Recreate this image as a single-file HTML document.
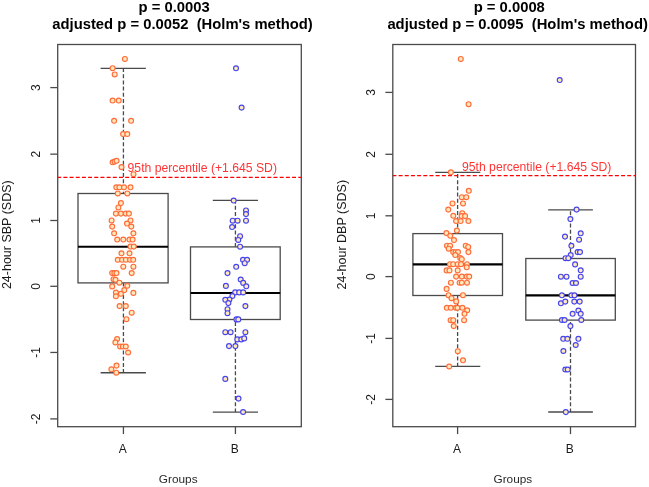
<!DOCTYPE html>
<html><head><meta charset="utf-8"><title>Boxplots</title>
<style>
html,body{margin:0;padding:0;background:#fff;width:649px;height:487px;overflow:hidden}
svg{display:block;will-change:transform}
.t{font-family:"Liberation Sans",sans-serif;font-size:12px;fill:#1a1a1a}
.g{fill:#2a2a2a;font-size:11.8px}
.yl{font-size:12.5px}
.ti{font-family:"Liberation Sans",sans-serif;font-size:14.8px;font-weight:bold;fill:#000}
.rt{fill:#ff3535;font-size:12.2px}
.o{fill:#ffe8bc;stroke:#ff6c3a;stroke-width:1.15}
.b{fill:#ffe8bc;stroke:#4444ee;stroke-width:1.15}
</style></head>
<body>
<svg width="649" height="487" viewBox="0 0 649 487">
<rect width="649" height="487" fill="#fff"/>
<rect x="57.7" y="44.5" width="243.6" height="382.2" fill="none" stroke="#4a4a4a" stroke-width="1.3"/>
<line x1="50.3" y1="87.6" x2="57.7" y2="87.6" stroke="#4a4a4a" stroke-width="1.3"/>
<text transform="translate(39.6,87.6) rotate(-90)" text-anchor="middle" class="t">3</text>
<line x1="50.3" y1="154.15" x2="57.7" y2="154.15" stroke="#4a4a4a" stroke-width="1.3"/>
<text transform="translate(39.6,154.15) rotate(-90)" text-anchor="middle" class="t">2</text>
<line x1="50.3" y1="220.5" x2="57.7" y2="220.5" stroke="#4a4a4a" stroke-width="1.3"/>
<text transform="translate(39.6,220.5) rotate(-90)" text-anchor="middle" class="t">1</text>
<line x1="50.3" y1="286.3" x2="57.7" y2="286.3" stroke="#4a4a4a" stroke-width="1.3"/>
<text transform="translate(39.6,286.3) rotate(-90)" text-anchor="middle" class="t">0</text>
<line x1="50.3" y1="352.45" x2="57.7" y2="352.45" stroke="#4a4a4a" stroke-width="1.3"/>
<text transform="translate(39.6,352.45) rotate(-90)" text-anchor="middle" class="t">-1</text>
<line x1="50.3" y1="418.9" x2="57.7" y2="418.9" stroke="#4a4a4a" stroke-width="1.3"/>
<text transform="translate(39.6,418.9) rotate(-90)" text-anchor="middle" class="t">-2</text>
<line x1="123.43" y1="426.7" x2="123.43" y2="434.1" stroke="#4a4a4a" stroke-width="1.3"/>
<text x="122.73" y="453" text-anchor="middle" class="t">A</text>
<line x1="235.43" y1="426.7" x2="235.43" y2="434.1" stroke="#4a4a4a" stroke-width="1.3"/>
<text x="234.73" y="453" text-anchor="middle" class="t">B</text>
<text x="178.2" y="483.2" text-anchor="middle" class="t g">Groups</text>
<text transform="translate(11.1,234.7) rotate(-90)" text-anchor="middle" class="t yl">24-hour SBP (SDS)</text>
<text x="138.6" y="11.8" class="ti">p = 0.0003</text>
<text x="52.3" y="29.4" class="ti" xml:space="preserve">adjusted p = 0.0052  (Holm's method)</text>
<line x1="57.7" y1="177.4" x2="301.3" y2="177.4" stroke="#ff0000" stroke-width="1.3" stroke-dasharray="4 2.18" stroke-dashoffset="0.5"/>
<text x="127.6" y="171.6" class="t rt">95th percentile (+1.645 SD)</text>
<line x1="123.43" y1="193.5" x2="123.43" y2="68.45" stroke="#4a4a4a" stroke-width="1.3" stroke-dasharray="4 2.18" stroke-dashoffset="2.16"/>
<line x1="123.43" y1="282.9" x2="123.43" y2="372.75" stroke="#4a4a4a" stroke-width="1.3" stroke-dasharray="4 2.18" stroke-dashoffset="0.31"/>
<line x1="100.6" y1="68.45" x2="145.9" y2="68.45" stroke="#4a4a4a" stroke-width="1.3"/>
<line x1="100.6" y1="372.75" x2="145.9" y2="372.75" stroke="#4a4a4a" stroke-width="1.3"/>
<rect x="78" y="193.5" width="90.1" height="89.4" fill="none" stroke="#4a4a4a" stroke-width="1.3"/>
<line x1="78" y1="246.7" x2="168.1" y2="246.7" stroke="#000" stroke-width="2.1"/>
<line x1="235.43" y1="246.9" x2="235.43" y2="200.45" stroke="#4a4a4a" stroke-width="1.3" stroke-dasharray="4 2.18" stroke-dashoffset="0"/>
<line x1="235.43" y1="319.5" x2="235.43" y2="412.1" stroke="#4a4a4a" stroke-width="1.3" stroke-dasharray="4 2.18" stroke-dashoffset="3.76"/>
<line x1="212.8" y1="200.45" x2="258" y2="200.45" stroke="#4a4a4a" stroke-width="1.3"/>
<line x1="212.8" y1="412.1" x2="258" y2="412.1" stroke="#4a4a4a" stroke-width="1.3"/>
<rect x="190.5" y="246.9" width="89.7" height="72.6" fill="none" stroke="#4a4a4a" stroke-width="1.3"/>
<line x1="190.5" y1="293.05" x2="280.2" y2="293.05" stroke="#000" stroke-width="2.1"/>
<circle cx="124.9" cy="58.9" r="2.45" class="o"/>
<circle cx="112.6" cy="68.2" r="2.45" class="o"/>
<circle cx="114.7" cy="74.4" r="2.45" class="o"/>
<circle cx="112.6" cy="100.5" r="2.45" class="o"/>
<circle cx="118.7" cy="100.5" r="2.45" class="o"/>
<circle cx="114.1" cy="120.8" r="2.45" class="o"/>
<circle cx="131.1" cy="120.8" r="2.45" class="o"/>
<circle cx="123.1" cy="134" r="2.45" class="o"/>
<circle cx="127.3" cy="134" r="2.45" class="o"/>
<circle cx="112.6" cy="162.3" r="2.45" class="o"/>
<circle cx="114.6" cy="161.6" r="2.45" class="o"/>
<circle cx="116.6" cy="160.8" r="2.45" class="o"/>
<circle cx="121.5" cy="167.1" r="2.45" class="o"/>
<circle cx="133.5" cy="174.2" r="2.45" class="o"/>
<circle cx="116.3" cy="187.3" r="2.45" class="o"/>
<circle cx="119.4" cy="187.3" r="2.45" class="o"/>
<circle cx="124" cy="187.3" r="2.45" class="o"/>
<circle cx="130.5" cy="187.3" r="2.45" class="o"/>
<circle cx="117.8" cy="193.4" r="2.45" class="o"/>
<circle cx="127.3" cy="193.4" r="2.45" class="o"/>
<circle cx="120.9" cy="203" r="2.45" class="o"/>
<circle cx="118.4" cy="207.4" r="2.45" class="o"/>
<circle cx="115.9" cy="213.6" r="2.45" class="o"/>
<circle cx="120.9" cy="213.6" r="2.45" class="o"/>
<circle cx="125.8" cy="213.6" r="2.45" class="o"/>
<circle cx="128.9" cy="213.6" r="2.45" class="o"/>
<circle cx="111.6" cy="220.4" r="2.45" class="o"/>
<circle cx="130.5" cy="220.4" r="2.45" class="o"/>
<circle cx="127" cy="223.5" r="2.45" class="o"/>
<circle cx="112.2" cy="226.6" r="2.45" class="o"/>
<circle cx="131.3" cy="226.6" r="2.45" class="o"/>
<circle cx="114.1" cy="233.3" r="2.45" class="o"/>
<circle cx="133.4" cy="233.3" r="2.45" class="o"/>
<circle cx="117.2" cy="239.5" r="2.45" class="o"/>
<circle cx="123.3" cy="239.5" r="2.45" class="o"/>
<circle cx="129.5" cy="239.5" r="2.45" class="o"/>
<circle cx="132.6" cy="239.5" r="2.45" class="o"/>
<circle cx="130.5" cy="246.6" r="2.45" class="o"/>
<circle cx="133.8" cy="246.6" r="2.45" class="o"/>
<circle cx="121.5" cy="253.3" r="2.45" class="o"/>
<circle cx="129.5" cy="253.3" r="2.45" class="o"/>
<circle cx="117.8" cy="259.8" r="2.45" class="o"/>
<circle cx="122.1" cy="259.8" r="2.45" class="o"/>
<circle cx="125.8" cy="259.8" r="2.45" class="o"/>
<circle cx="130.1" cy="259.8" r="2.45" class="o"/>
<circle cx="133.2" cy="259.8" r="2.45" class="o"/>
<circle cx="123.3" cy="266.7" r="2.45" class="o"/>
<circle cx="133.4" cy="266.7" r="2.45" class="o"/>
<circle cx="112.2" cy="273.1" r="2.45" class="o"/>
<circle cx="114.4" cy="273.1" r="2.45" class="o"/>
<circle cx="116.5" cy="273.1" r="2.45" class="o"/>
<circle cx="131.7" cy="273.1" r="2.45" class="o"/>
<circle cx="113.5" cy="279.2" r="2.45" class="o"/>
<circle cx="115.5" cy="279.8" r="2.45" class="o"/>
<circle cx="119.4" cy="282.7" r="2.45" class="o"/>
<circle cx="112.2" cy="286.4" r="2.45" class="o"/>
<circle cx="127.3" cy="285.8" r="2.45" class="o"/>
<circle cx="124.3" cy="290.1" r="2.45" class="o"/>
<circle cx="115.9" cy="292.6" r="2.45" class="o"/>
<circle cx="120.9" cy="293.8" r="2.45" class="o"/>
<circle cx="115.9" cy="296.3" r="2.45" class="o"/>
<circle cx="133.4" cy="292.9" r="2.45" class="o"/>
<circle cx="119.6" cy="306.1" r="2.45" class="o"/>
<circle cx="125.8" cy="306.1" r="2.45" class="o"/>
<circle cx="131.7" cy="312.7" r="2.45" class="o"/>
<circle cx="126.4" cy="319.2" r="2.45" class="o"/>
<circle cx="117.1" cy="339" r="2.45" class="o"/>
<circle cx="115.4" cy="342.4" r="2.45" class="o"/>
<circle cx="120.1" cy="346.5" r="2.45" class="o"/>
<circle cx="122.9" cy="346.5" r="2.45" class="o"/>
<circle cx="125.8" cy="346.5" r="2.45" class="o"/>
<circle cx="128.1" cy="352.5" r="2.45" class="o"/>
<circle cx="116.5" cy="365.6" r="2.45" class="o"/>
<circle cx="111.4" cy="369.3" r="2.45" class="o"/>
<circle cx="116.3" cy="372.7" r="2.45" class="o"/>
<circle cx="236" cy="68.3" r="2.45" class="b"/>
<circle cx="241.6" cy="107.6" r="2.45" class="b"/>
<circle cx="233.7" cy="200.5" r="2.45" class="b"/>
<circle cx="246" cy="210.4" r="2.45" class="b"/>
<circle cx="246" cy="214.1" r="2.45" class="b"/>
<circle cx="232.7" cy="220.7" r="2.45" class="b"/>
<circle cx="237.6" cy="220.7" r="2.45" class="b"/>
<circle cx="246" cy="220.7" r="2.45" class="b"/>
<circle cx="232.1" cy="227" r="2.45" class="b"/>
<circle cx="240.1" cy="236.2" r="2.45" class="b"/>
<circle cx="238.3" cy="239.9" r="2.45" class="b"/>
<circle cx="240.1" cy="246.7" r="2.45" class="b"/>
<circle cx="243" cy="259.8" r="2.45" class="b"/>
<circle cx="247.1" cy="259.8" r="2.45" class="b"/>
<circle cx="244.7" cy="263.2" r="2.45" class="b"/>
<circle cx="236.2" cy="266.8" r="2.45" class="b"/>
<circle cx="227.5" cy="273.1" r="2.45" class="b"/>
<circle cx="240.7" cy="279.5" r="2.45" class="b"/>
<circle cx="243.2" cy="282.9" r="2.45" class="b"/>
<circle cx="246.3" cy="286.3" r="2.45" class="b"/>
<circle cx="225.9" cy="285.9" r="2.45" class="b"/>
<circle cx="235.2" cy="292.4" r="2.45" class="b"/>
<circle cx="239.2" cy="292.4" r="2.45" class="b"/>
<circle cx="243.2" cy="292.4" r="2.45" class="b"/>
<circle cx="232.4" cy="296" r="2.45" class="b"/>
<circle cx="229.4" cy="299.5" r="2.45" class="b"/>
<circle cx="225.3" cy="299.8" r="2.45" class="b"/>
<circle cx="228.4" cy="303.1" r="2.45" class="b"/>
<circle cx="245.4" cy="306.1" r="2.45" class="b"/>
<circle cx="227.5" cy="309.2" r="2.45" class="b"/>
<circle cx="227.5" cy="313.2" r="2.45" class="b"/>
<circle cx="236.4" cy="319.4" r="2.45" class="b"/>
<circle cx="238.3" cy="319.4" r="2.45" class="b"/>
<circle cx="225.3" cy="332.2" r="2.45" class="b"/>
<circle cx="230.6" cy="332.2" r="2.45" class="b"/>
<circle cx="245.4" cy="332.2" r="2.45" class="b"/>
<circle cx="237.3" cy="339.4" r="2.45" class="b"/>
<circle cx="241.3" cy="339.4" r="2.45" class="b"/>
<circle cx="244.2" cy="338.4" r="2.45" class="b"/>
<circle cx="229" cy="346.1" r="2.45" class="b"/>
<circle cx="235.4" cy="346.1" r="2.45" class="b"/>
<circle cx="225.3" cy="378.9" r="2.45" class="b"/>
<circle cx="238.5" cy="398.6" r="2.45" class="b"/>
<circle cx="243.1" cy="412" r="2.45" class="b"/>
<rect x="392.8" y="44.5" width="242.7" height="382.2" fill="none" stroke="#4a4a4a" stroke-width="1.3"/>
<line x1="385.4" y1="92.4" x2="392.8" y2="92.4" stroke="#4a4a4a" stroke-width="1.3"/>
<text transform="translate(374.7,92.4) rotate(-90)" text-anchor="middle" class="t">3</text>
<line x1="385.4" y1="154.3" x2="392.8" y2="154.3" stroke="#4a4a4a" stroke-width="1.3"/>
<text transform="translate(374.7,154.3) rotate(-90)" text-anchor="middle" class="t">2</text>
<line x1="385.4" y1="215.8" x2="392.8" y2="215.8" stroke="#4a4a4a" stroke-width="1.3"/>
<text transform="translate(374.7,215.8) rotate(-90)" text-anchor="middle" class="t">1</text>
<line x1="385.4" y1="276.6" x2="392.8" y2="276.6" stroke="#4a4a4a" stroke-width="1.3"/>
<text transform="translate(374.7,276.6) rotate(-90)" text-anchor="middle" class="t">0</text>
<line x1="385.4" y1="338.4" x2="392.8" y2="338.4" stroke="#4a4a4a" stroke-width="1.3"/>
<text transform="translate(374.7,338.4) rotate(-90)" text-anchor="middle" class="t">-1</text>
<line x1="385.4" y1="399.4" x2="392.8" y2="399.4" stroke="#4a4a4a" stroke-width="1.3"/>
<text transform="translate(374.7,399.4) rotate(-90)" text-anchor="middle" class="t">-2</text>
<line x1="457.6" y1="426.7" x2="457.6" y2="434.1" stroke="#4a4a4a" stroke-width="1.3"/>
<text x="456.9" y="453" text-anchor="middle" class="t">A</text>
<line x1="570.5" y1="426.7" x2="570.5" y2="434.1" stroke="#4a4a4a" stroke-width="1.3"/>
<text x="569.8" y="453" text-anchor="middle" class="t">B</text>
<text x="512.85" y="483.2" text-anchor="middle" class="t g">Groups</text>
<text transform="translate(346.2,234.7) rotate(-90)" text-anchor="middle" class="t yl">24-hour DBP (SDS)</text>
<text x="473.7" y="11.8" class="ti">p = 0.0008</text>
<text x="387.4" y="29.4" class="ti" xml:space="preserve">adjusted p = 0.0095  (Holm's method)</text>
<line x1="392.8" y1="175.6" x2="635.5" y2="175.6" stroke="#ff0000" stroke-width="1.3" stroke-dasharray="4 2.18" stroke-dashoffset="0.4"/>
<text x="462" y="170.9" class="t rt">95th percentile (+1.645 SD)</text>
<line x1="457.6" y1="233.6" x2="457.6" y2="172.45" stroke="#4a4a4a" stroke-width="1.3" stroke-dasharray="4 2.18" stroke-dashoffset="0"/>
<line x1="457.6" y1="295.5" x2="457.6" y2="366.45" stroke="#4a4a4a" stroke-width="1.3" stroke-dasharray="4 2.18" stroke-dashoffset="0.68"/>
<line x1="435.2" y1="172.45" x2="480.3" y2="172.45" stroke="#4a4a4a" stroke-width="1.3"/>
<line x1="435.2" y1="366.45" x2="480.3" y2="366.45" stroke="#4a4a4a" stroke-width="1.3"/>
<rect x="412.9" y="233.6" width="89.6" height="61.9" fill="none" stroke="#4a4a4a" stroke-width="1.3"/>
<line x1="412.9" y1="264.4" x2="502.5" y2="264.4" stroke="#000" stroke-width="2.1"/>
<line x1="570.5" y1="258.5" x2="570.5" y2="209.8" stroke="#4a4a4a" stroke-width="1.3" stroke-dasharray="4 2.18" stroke-dashoffset="0"/>
<line x1="570.5" y1="320.1" x2="570.5" y2="412" stroke="#4a4a4a" stroke-width="1.3" stroke-dasharray="4 2.18" stroke-dashoffset="4.28"/>
<line x1="548.2" y1="209.8" x2="592.9" y2="209.8" stroke="#4a4a4a" stroke-width="1.3"/>
<line x1="548.2" y1="412" x2="592.9" y2="412" stroke="#4a4a4a" stroke-width="1.3"/>
<rect x="525.8" y="258.5" width="89.5" height="61.6" fill="none" stroke="#4a4a4a" stroke-width="1.3"/>
<line x1="525.8" y1="295.4" x2="615.3" y2="295.4" stroke="#000" stroke-width="2.1"/>
<circle cx="460.8" cy="58.9" r="2.45" class="o"/>
<circle cx="468.6" cy="104.2" r="2.45" class="o"/>
<circle cx="450.9" cy="172.3" r="2.45" class="o"/>
<circle cx="468.8" cy="190.8" r="2.45" class="o"/>
<circle cx="461.8" cy="197.2" r="2.45" class="o"/>
<circle cx="466.3" cy="197.2" r="2.45" class="o"/>
<circle cx="452.5" cy="203.4" r="2.45" class="o"/>
<circle cx="463" cy="203.4" r="2.45" class="o"/>
<circle cx="448.3" cy="209.6" r="2.45" class="o"/>
<circle cx="453.3" cy="215.8" r="2.45" class="o"/>
<circle cx="462.2" cy="213.2" r="2.45" class="o"/>
<circle cx="461.6" cy="216.1" r="2.45" class="o"/>
<circle cx="465.1" cy="216.1" r="2.45" class="o"/>
<circle cx="456.1" cy="221" r="2.45" class="o"/>
<circle cx="460.6" cy="221" r="2.45" class="o"/>
<circle cx="468.4" cy="221" r="2.45" class="o"/>
<circle cx="456.9" cy="230.5" r="2.45" class="o"/>
<circle cx="446.4" cy="233.1" r="2.45" class="o"/>
<circle cx="450.3" cy="235.8" r="2.45" class="o"/>
<circle cx="454" cy="240.1" r="2.45" class="o"/>
<circle cx="447" cy="245.7" r="2.45" class="o"/>
<circle cx="450.1" cy="245.7" r="2.45" class="o"/>
<circle cx="448.7" cy="248.7" r="2.45" class="o"/>
<circle cx="465.7" cy="245.7" r="2.45" class="o"/>
<circle cx="468.2" cy="246.9" r="2.45" class="o"/>
<circle cx="468.4" cy="252.1" r="2.45" class="o"/>
<circle cx="453.2" cy="252.1" r="2.45" class="o"/>
<circle cx="455.6" cy="252.2" r="2.45" class="o"/>
<circle cx="458" cy="252.1" r="2.45" class="o"/>
<circle cx="455.3" cy="255" r="2.45" class="o"/>
<circle cx="460.2" cy="258" r="2.45" class="o"/>
<circle cx="461.8" cy="259.2" r="2.45" class="o"/>
<circle cx="450" cy="264.2" r="2.45" class="o"/>
<circle cx="453.2" cy="264.2" r="2.45" class="o"/>
<circle cx="457.7" cy="264.2" r="2.45" class="o"/>
<circle cx="461" cy="264.2" r="2.45" class="o"/>
<circle cx="467" cy="264.2" r="2.45" class="o"/>
<circle cx="466.7" cy="267.3" r="2.45" class="o"/>
<circle cx="446.6" cy="270.4" r="2.45" class="o"/>
<circle cx="449.5" cy="270.4" r="2.45" class="o"/>
<circle cx="457.7" cy="270.4" r="2.45" class="o"/>
<circle cx="456.1" cy="276.6" r="2.45" class="o"/>
<circle cx="461.8" cy="276.6" r="2.45" class="o"/>
<circle cx="466.7" cy="276.6" r="2.45" class="o"/>
<circle cx="469.2" cy="276.6" r="2.45" class="o"/>
<circle cx="450.9" cy="282.7" r="2.45" class="o"/>
<circle cx="459.6" cy="282.7" r="2.45" class="o"/>
<circle cx="461.8" cy="282.7" r="2.45" class="o"/>
<circle cx="467" cy="282.7" r="2.45" class="o"/>
<circle cx="446.6" cy="288.9" r="2.45" class="o"/>
<circle cx="448.5" cy="295.2" r="2.45" class="o"/>
<circle cx="463" cy="295.2" r="2.45" class="o"/>
<circle cx="451.5" cy="298.2" r="2.45" class="o"/>
<circle cx="456.2" cy="301.4" r="2.45" class="o"/>
<circle cx="446.8" cy="307.8" r="2.45" class="o"/>
<circle cx="450.8" cy="307.8" r="2.45" class="o"/>
<circle cx="455.8" cy="307.8" r="2.45" class="o"/>
<circle cx="457.5" cy="307.8" r="2.45" class="o"/>
<circle cx="462.4" cy="307.8" r="2.45" class="o"/>
<circle cx="467.2" cy="310.3" r="2.45" class="o"/>
<circle cx="464.5" cy="313.8" r="2.45" class="o"/>
<circle cx="450.6" cy="320.2" r="2.45" class="o"/>
<circle cx="453.3" cy="320.2" r="2.45" class="o"/>
<circle cx="464.1" cy="320.2" r="2.45" class="o"/>
<circle cx="453.7" cy="326.1" r="2.45" class="o"/>
<circle cx="457.8" cy="351.2" r="2.45" class="o"/>
<circle cx="463" cy="360.3" r="2.45" class="o"/>
<circle cx="449.2" cy="366.5" r="2.45" class="o"/>
<circle cx="559.7" cy="80" r="2.45" class="b"/>
<circle cx="576.6" cy="209.6" r="2.45" class="b"/>
<circle cx="570.4" cy="219.1" r="2.45" class="b"/>
<circle cx="580.7" cy="233.3" r="2.45" class="b"/>
<circle cx="565" cy="236.6" r="2.45" class="b"/>
<circle cx="579.1" cy="239.7" r="2.45" class="b"/>
<circle cx="571.4" cy="245.8" r="2.45" class="b"/>
<circle cx="577.6" cy="252.1" r="2.45" class="b"/>
<circle cx="580" cy="252.1" r="2.45" class="b"/>
<circle cx="570.7" cy="255" r="2.45" class="b"/>
<circle cx="565.5" cy="258.2" r="2.45" class="b"/>
<circle cx="568.3" cy="258.2" r="2.45" class="b"/>
<circle cx="575.1" cy="264.4" r="2.45" class="b"/>
<circle cx="580.7" cy="270.3" r="2.45" class="b"/>
<circle cx="560.9" cy="276.7" r="2.45" class="b"/>
<circle cx="566.5" cy="276.7" r="2.45" class="b"/>
<circle cx="580.7" cy="276.7" r="2.45" class="b"/>
<circle cx="572.6" cy="283" r="2.45" class="b"/>
<circle cx="576" cy="283" r="2.45" class="b"/>
<circle cx="561.9" cy="295.3" r="2.45" class="b"/>
<circle cx="571.4" cy="295.3" r="2.45" class="b"/>
<circle cx="574.5" cy="295.3" r="2.45" class="b"/>
<circle cx="560.9" cy="303.3" r="2.45" class="b"/>
<circle cx="565.3" cy="301.6" r="2.45" class="b"/>
<circle cx="574.3" cy="301.6" r="2.45" class="b"/>
<circle cx="579.7" cy="301.6" r="2.45" class="b"/>
<circle cx="578.4" cy="310.5" r="2.45" class="b"/>
<circle cx="572.6" cy="313.8" r="2.45" class="b"/>
<circle cx="580.7" cy="313.8" r="2.45" class="b"/>
<circle cx="561.9" cy="320" r="2.45" class="b"/>
<circle cx="564.6" cy="320" r="2.45" class="b"/>
<circle cx="581.3" cy="320" r="2.45" class="b"/>
<circle cx="570.4" cy="326.1" r="2.45" class="b"/>
<circle cx="563.2" cy="338.8" r="2.45" class="b"/>
<circle cx="567.4" cy="338.8" r="2.45" class="b"/>
<circle cx="578.4" cy="338.8" r="2.45" class="b"/>
<circle cx="575.7" cy="345" r="2.45" class="b"/>
<circle cx="563.4" cy="351" r="2.45" class="b"/>
<circle cx="565.3" cy="369.5" r="2.45" class="b"/>
<circle cx="567.7" cy="369.5" r="2.45" class="b"/>
<circle cx="565.8" cy="412.1" r="2.45" class="b"/>
</svg>
</body></html>
